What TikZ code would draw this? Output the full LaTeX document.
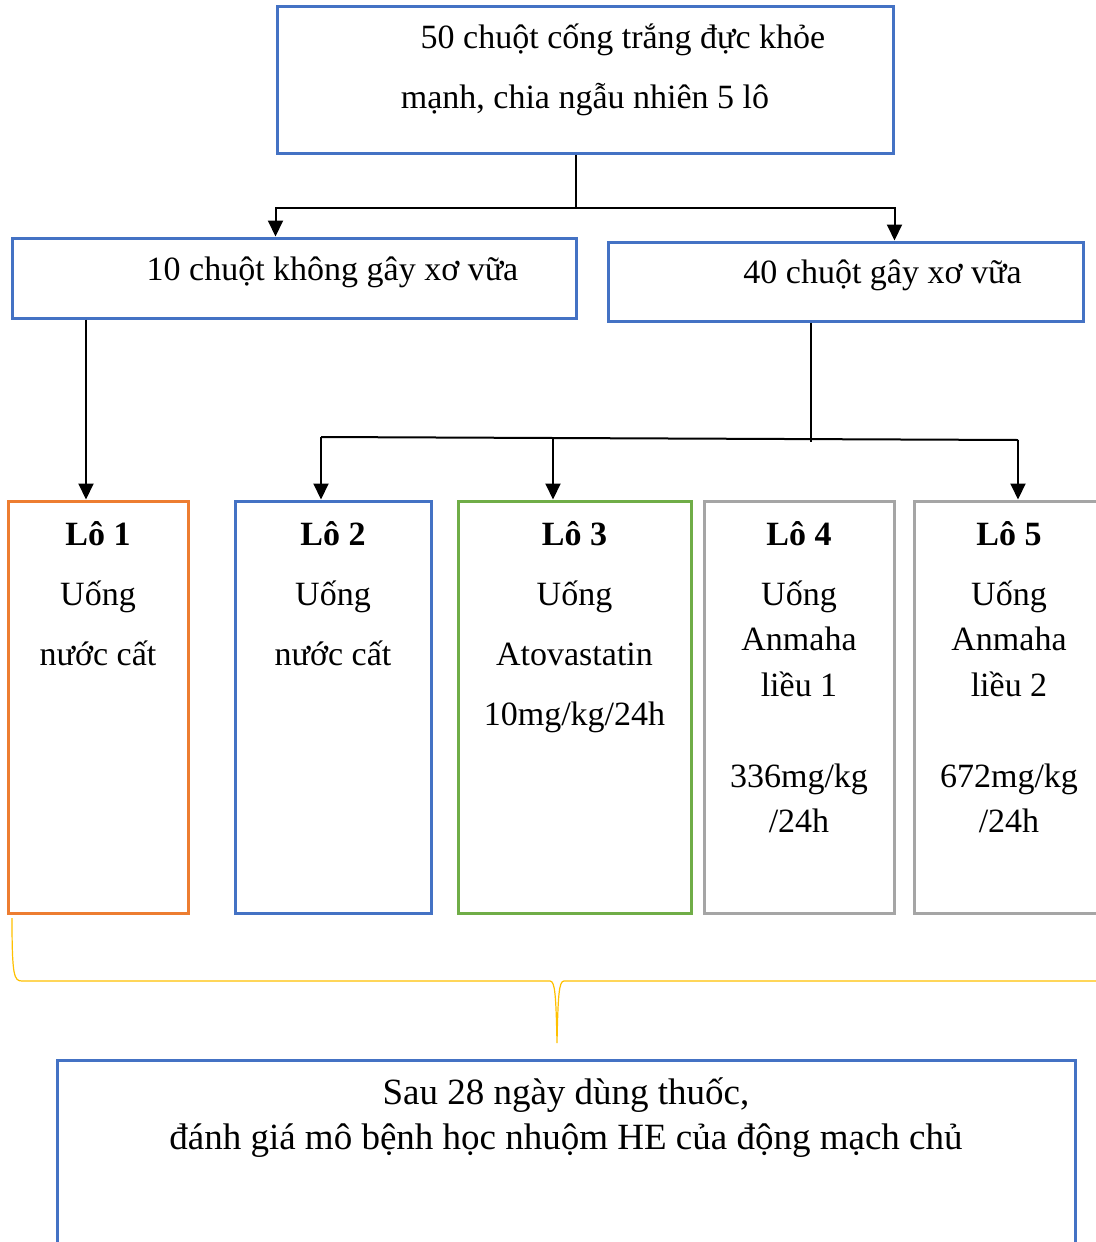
\documentclass[tikz,border=0pt]{standalone}
\usepackage{fontspec}
\setmainfont{Liberation Serif}
\usepackage{xcolor}
\usepackage{tikz}
\usetikzlibrary{
  positioning,
  arrows.meta
}
\definecolor{wordblue}{RGB}{68,114,196}
\definecolor{wordorange}{RGB}{237,125,49}
\definecolor{wordgreen}{RGB}{112,173,71}
\definecolor{wordgray}{RGB}{165,165,165}
\definecolor{wordgold}{RGB}{255,192,0}

\begin{document}
\begin{tikzpicture}[
  x=0.5pt, y=-0.5pt,
  >={Triangle[length=8pt,width=7.5pt]},
  box/.style={draw=wordblue, line width=1.5pt, rectangle, inner sep=0pt},
  lot/.style={box, minimum height=206pt},
  txt/.style={font=\fontsize{17pt}{30pt}\selectfont, align=center,
              inner sep=0pt, anchor=base},
  lottxt/.style={font=\fontsize{17pt}{22.75pt}\selectfont, align=center,
                 inner sep=0pt, anchor=base},
  restxt/.style={font=\fontsize{18.5pt}{22.5pt}\selectfont, align=center,
                 inner sep=0pt, anchor=base},
  link/.style={line width=1pt},
  arr/.style={->, line width=1pt},
  brace/.style={draw=wordgold, line width=0.6pt},
]
\useasboundingbox (0,0) rectangle (1096,1242);

\node[box, minimum width=308pt, minimum height=73.5pt] (root) at (585,79.5) {};
\node[box, minimum width=282pt, minimum height=40pt] (grpA) at (294,278) {};
\node[box, minimum width=237.5pt, minimum height=39.5pt] (grpB) at (845.5,281.5) {};
\node[lot, draw=wordorange, minimum width=90pt] (lo1) at (98,707) {};
\node[lot, minimum width=98pt] (lo2) at (333,707) {};
\node[lot, draw=wordgreen, minimum width=116.5pt] (lo3) at (574.5,707) {};
\node[lot, draw=wordgray, minimum width=95pt] (lo4) at (799,707) {};
\node[lot, draw=wordgray, minimum width=95pt] (lo5) at (1009,707) {};
\node[box, minimum width=509pt, minimum height=100pt] (result) at (566,1160) {};

\node[txt] (rootlbl) at (585,108)
  {\hspace*{38pt}50 chuột cống trắng đực khỏe\\mạnh, chia ngẫu nhiên 5 lô};
\node[txt] (grpAlbl) at (332.5,280) {10 chuột không gây xơ vữa};
\node[txt] (grpBlbl) at (882.5,283) {40 chuột gây xơ vữa};
\node[lottxt] (lo1lbl) at (lo1.north |- 0,665)
  {\textbf{Lô 1}\\[7.25pt]Uống\\[7.25pt]nước cất};
\node[lottxt] (lo2lbl) at (lo2.north |- 0,665)
  {\textbf{Lô 2}\\[7.25pt]Uống\\[7.25pt]nước cất};
\node[lottxt] (lo3lbl) at (lo3.north |- 0,725)
  {\textbf{Lô 3}\\[7.25pt]Uống\\[7.25pt]Atovastatin\\[7.25pt]10mg/kg/24h};
\node[lottxt] (lo4lbl) at (lo4.north |- 0,832.5)
  {\textbf{Lô 4}\\[7.25pt]Uống\\Anmaha\\liều 1\\[22.75pt]336mg/kg\\/24h};
\node[lottxt] (lo5lbl) at (lo5.north |- 0,832.5)
  {\textbf{Lô 5}\\[7.25pt]Uống\\Anmaha\\liều 2\\[22.75pt]672mg/kg\\/24h};
\node[restxt] (resultlbl) at (566,1149)
  {Sau 28 ngày dùng thuốc,\\đánh giá mô bệnh học nhuộm HE của động mạch chủ};

\coordinate (rootfork) at (576,208);
\coordinate (leftdrop) at (86,0);
\coordinate (grpfork) at (811,442);
\coordinate (fork2) at (321,437);
\coordinate (fork3) at (553,438);
\coordinate (fork5) at (1018,440);

\draw[link] (root.south -| rootfork) -- (rootfork);
\draw[arr] (rootfork) -| (root.west |- grpA.north);
\draw[arr] (rootfork) -| (root.east |- grpB.north);
\draw[arr] (grpA.south -| leftdrop) -- (lo1.north -| leftdrop);
\draw[link] (grpB.south -| grpfork) -- (grpfork);
\draw[link] (fork2) -- (fork5);
\draw[arr] (fork2) -- (lo2.north -| fork2);
\draw[arr] (fork3) -- (lo3.north -| fork3);
\draw[arr] (fork5) -- (lo5.north -| fork5);

\draw[brace] (12,918) .. controls (12,976) and (14,981) .. (22,981)
  -- (550,981) .. controls (555,981) and (556,995) .. (557,1043)
  .. controls (558,995) and (559,981) .. (564,981) -- (1110,981);

\end{tikzpicture}
\end{document}
